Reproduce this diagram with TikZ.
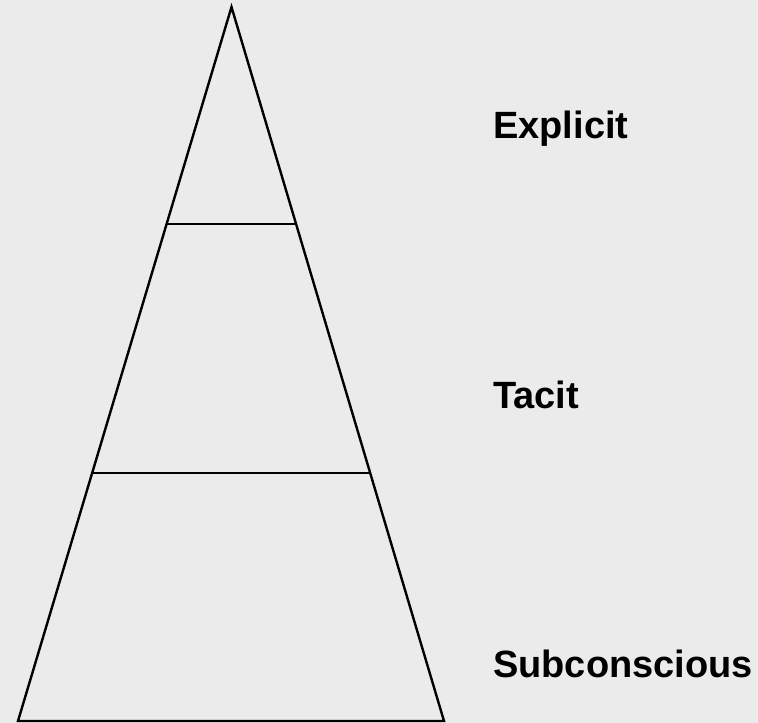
\documentclass[tikz,border=0pt]{standalone}
\usepackage{fontspec}
\setmainfont{Liberation Sans}
\usetikzlibrary{positioning}

\begin{document}
\begin{tikzpicture}[x=1pt, y=-1pt,
		edge/.style={draw=black, line width=2.4pt, line join=miter},
		level/.style={anchor=base west, inner sep=0pt, font=\fontsize{38}{45}\selectfont\bfseries}]
		
		\fill[black!8] (0,0) rectangle (758,723);
		\useasboundingbox (0,0) rectangle (758,723);
		
		\coordinate (top) at (231.5, 7);
		\coordinate (bl) at (18, 721);
		\coordinate (br) at (444, 721);
		
		\draw[edge] (top) -- (br) -- (bl) -- cycle;
		
		\coordinate (c1) at (166.6, 224);
		\coordinate (c2) at (296, 224);
		\coordinate (c3) at (92.5, 473);
		\coordinate (c4) at (370.5, 473);
		
		\draw[edge] (c1) -- (c2);
		\draw[edge] (c3) -- (c4);
		
		\node[level] (explicit) at (493, 138) {Explicit};
		\node[level] (tacit) at (493, 408) {Tacit};
		\node[level] (subcon) at (493, 677) {Subconscious};
		
	\end{tikzpicture}
\end{document}
